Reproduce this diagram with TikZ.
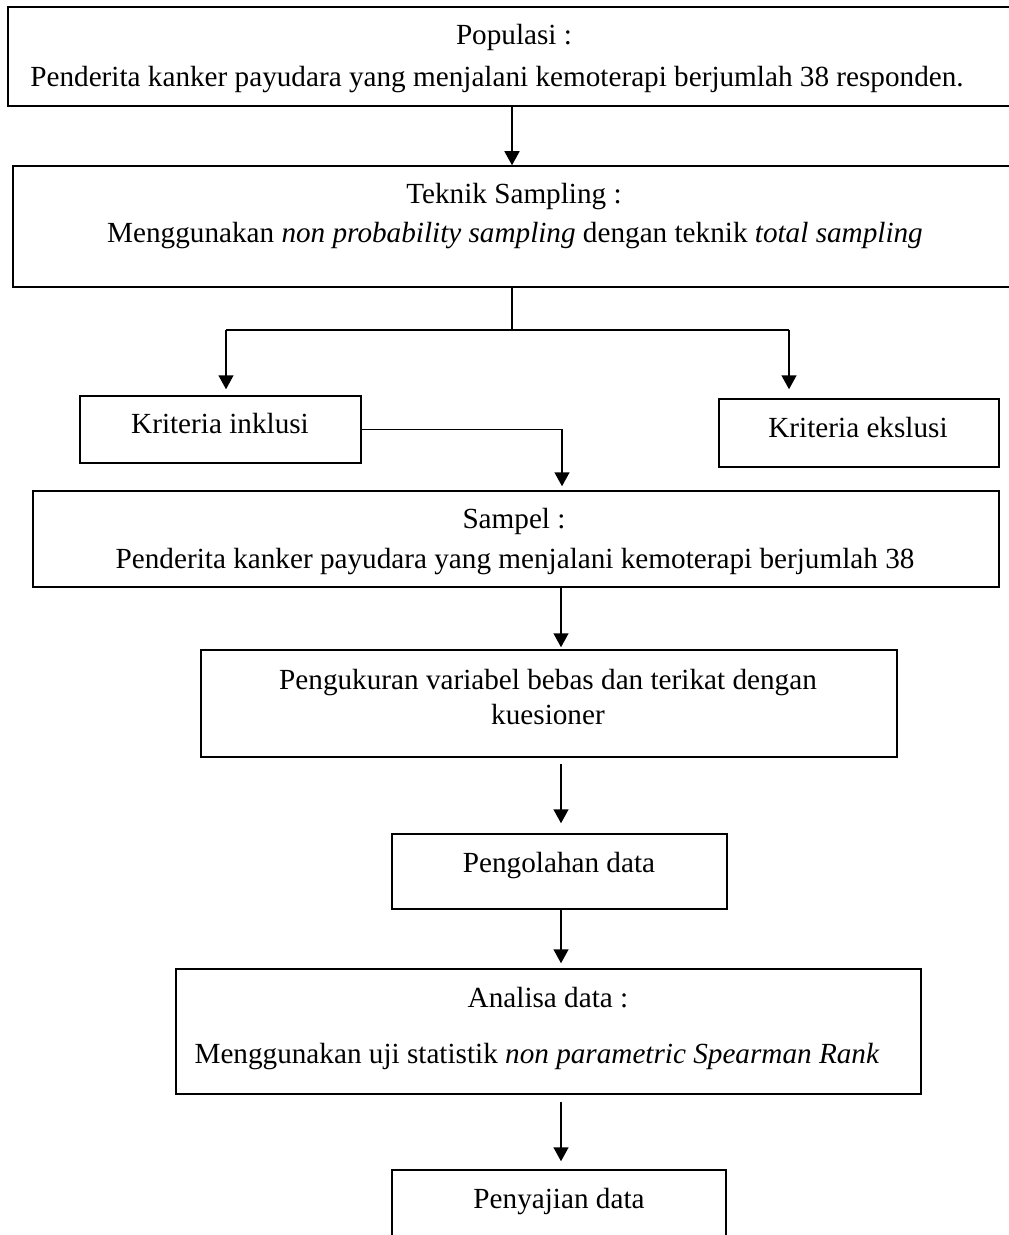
\documentclass[tikz,border=0pt]{standalone}
\usepackage{fontspec}
\setmainfont{Liberation Serif}
\usetikzlibrary{arrows.meta}

\begin{document}
\begin{tikzpicture}[x=0.5pt,y=-0.5pt,line width=0.75pt,
  box/.style={draw,rectangle,inner sep=0pt},
  txt/.style={font=\fontsize{14.6}{17.5}\selectfont,inner sep=0pt,anchor=base},
  arr/.style={-{Triangle[length=7pt,width=7.5pt]}}]

\useasboundingbox (0,0) rectangle (1008,1235);

% 1
\node[box,minimum width=504pt,minimum height=49.5pt] (Pop) at (512,56.5) {};
\node[txt] (Pop-a) at (514,45) {Populasi :};
\node[txt] (Pop-b) at (497,87) {Penderita kanker payudara yang menjalani kemoterapi berjumlah 38 responden.};

% 2
\node[box,minimum width=501.5pt,minimum height=60.5pt] (Tek) at (514.5,226.5) {};
\node[txt] (Tek-a) at (514,204) {Teknik Sampling :};
\node[txt] (Tek-b) at (515,243) {Menggunakan \textit{non probability sampling} dengan teknik \textit{total sampling}};

% 3
\node[box,minimum width=140.5pt,minimum height=33.5pt] (Inkl) at (220.5,429.5) {};
\node[txt] (Inkl-a) at (220,433) {Kriteria inklusi};

\node[box,minimum width=140pt,minimum height=34pt] (Eksl) at (859,433) {};
\node[txt] (Eksl-a) at (858,437) {Kriteria ekslusi};

% 4
\node[box,minimum width=483pt,minimum height=48pt] (Samp) at (516,539) {};
\node[txt] (Samp-a) at (514,528) {Sampel :};
\node[txt] (Samp-b) at (515,568) {Penderita kanker payudara yang menjalani kemoterapi berjumlah 38};

% 5
\node[box,minimum width=348pt,minimum height=53.5pt] (Peng) at (549,703.5) {};
\node[txt] (Peng-a) at (548,689) {Pengukuran variabel bebas dan terikat dengan};
\node[txt] (Peng-b) at (548,724) {kuesioner};

% 6
\node[box,minimum width=167.5pt,minimum height=37.5pt] (Olah) at (559.5,871.5) {};
\node[txt] (Olah-a) at (559,872) {Pengolahan data};

% 7
\node[box,minimum width=372.5pt,minimum height=62.5pt] (Anal) at (548.5,1031.5) {};
\node[txt] (Anal-a) at (548,1007) {Analisa data :};
\node[txt] (Anal-b) at (537,1063) {Menggunakan uji statistik \textit{non parametric Spearman Rank}};

% 8
\node[box,minimum width=167pt,minimum height=45pt] (Saji) at (559,1215) {};
\node[txt] (Saji-a) at (559,1208) {Penyajian data};

% connectors
\coordinate (C1) at (512,0);
\coordinate (S) at (512,330);
\coordinate (SL) at (226,330);
\coordinate (SR) at (789,330);
\coordinate (IK) at (562,0);
\coordinate (M) at (561,0);

\draw[arr] (Pop.south -| C1) -- (Tek.north -| C1);

\draw (Tek.south -| S) -- (S);
\draw (SL) -- (SR);
\draw[arr,shorten >=3pt] (SL) -- (SL |- Inkl.north);
\draw[arr,shorten >=4.5pt] (SR) -- (SR |- Eksl.north);

\draw[arr,shorten >=2pt] (Inkl.east) -| (IK |- Samp.north);

\draw[arr,shorten >=1pt] (Samp.south -| M) -- (Peng.north -| M);
\draw[arr,shorten <=3pt,shorten >=5pt] (Peng.south -| M) -- (Olah.north -| M);
\draw[arr,shorten >=2.5pt] (Olah.south -| M) -- (Anal.north -| M);
\draw[arr,shorten <=3.5pt,shorten >=4pt] (Anal.south -| M) -- (Saji.north -| M);

\end{tikzpicture}
\end{document}
